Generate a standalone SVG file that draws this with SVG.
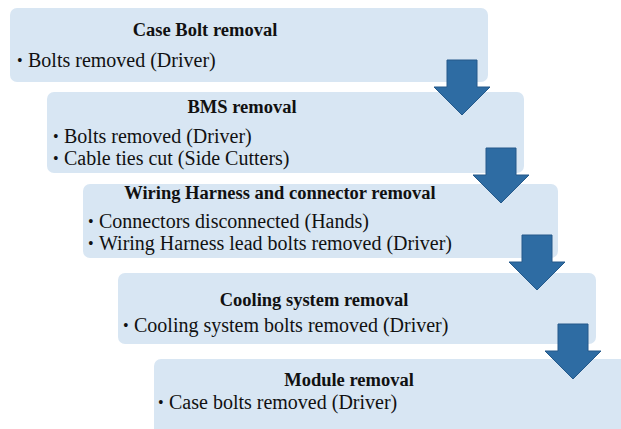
<svg xmlns="http://www.w3.org/2000/svg" width="621" height="429" viewBox="0 0 621 429">
<style>
.box{fill:#d8e6f3;}
.t{font-family:"Liberation Serif","Times New Roman",serif;font-weight:bold;font-size:18.5px;fill:#111;text-anchor:middle;}
.b{font-family:"Liberation Serif","Times New Roman",serif;font-size:20px;fill:#111;}
.d{font-family:"Liberation Serif","Times New Roman",serif;font-size:16px;fill:#111;}
.arr{fill:#2e6ca3;stroke:#24598a;stroke-width:1;}
</style>
<defs>
<path id="ar" d="M-15,0 H15 V27 H28 L0,55 L-28,27 H-15 Z"/>
</defs>
<rect width="621" height="429" fill="#ffffff"/>
<g id="node1">
<rect class="box" x="10" y="8" width="478" height="74" rx="7"/>
<text class="t" x="205" y="36">Case Bolt removal</text>
<text class="d" x="17" y="66">•</text><text class="b" x="28" y="67">Bolts removed (Driver)</text>
</g>
<g id="node2">
<rect class="box" x="47" y="92" width="477" height="81" rx="7"/>
<text class="t" x="242" y="113">BMS removal</text>
<text class="d" x="53" y="142">•</text><text class="b" x="64" y="143">Bolts removed (Driver)</text>
<text class="d" x="53" y="164">•</text><text class="b" x="64" y="165">Cable ties cut (Side Cutters)</text>
</g>
<g id="node3">
<rect class="box" x="83" y="184" width="475" height="74" rx="7"/>
<text class="t" x="280" y="199">Wiring Harness and connector removal</text>
<text class="d" x="88" y="227">•</text><text class="b" x="99" y="228">Connectors disconnected (Hands)</text>
<text class="d" x="88" y="249">•</text><text class="b" x="99" y="250">Wiring Harness lead bolts removed (Driver)</text>
</g>
<g id="node4">
<rect class="box" x="118" y="273" width="478" height="71" rx="7"/>
<text class="t" x="314" y="306">Cooling system removal</text>
<text class="d" x="123" y="331">•</text><text class="b" x="134" y="332">Cooling system bolts removed (Driver)</text>
</g>
<g id="node5">
<rect class="box" x="154" y="359" width="480" height="80" rx="7"/>
<text class="t" x="349" y="386">Module removal</text>
<text class="d" x="158" y="408">•</text><text class="b" x="169" y="409">Case bolts removed (Driver)</text>
</g>
<g id="connectors">
<use href="#ar" class="arr" transform="translate(462,60)"/>
<use href="#ar" class="arr" transform="translate(501,148)"/>
<use href="#ar" class="arr" transform="translate(537,235)"/>
<use href="#ar" class="arr" transform="translate(573,324)"/>
</g>
</svg>
